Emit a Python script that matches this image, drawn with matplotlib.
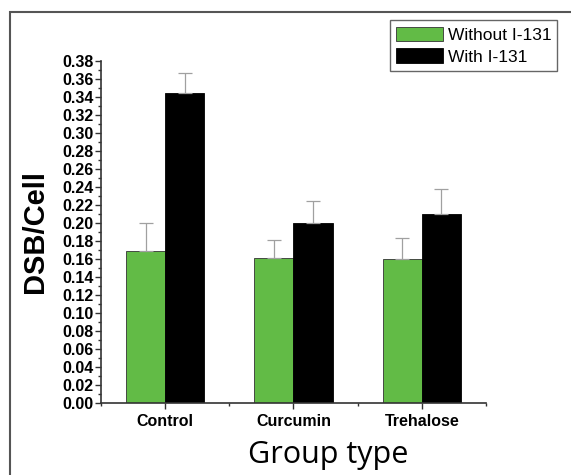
import matplotlib
matplotlib.use("Agg")
import matplotlib.pyplot as plt
import matplotlib.patches as patches
from matplotlib.ticker import MultipleLocator
import numpy as np

groups = ["Control", "Curcumin", "Trehalose"]
without_i131 = [0.169, 0.161, 0.160]
without_err = [0.031, 0.020, 0.023]
with_i131 = [0.344, 0.200, 0.210]
with_err = [0.023, 0.024, 0.028]
series_names = ["Without I-131", "With I-131"]

green = "#62bb46"
bold_font = "Liberation Sans"

fig = plt.figure(figsize=(5.71, 4.75), dpi=100)
ax = fig.add_axes([0.177, 0.1516, 0.674, 0.72])

x = np.arange(len(groups))
w = 0.305
err_style = dict(ecolor="#a0a0a0", elinewidth=0.9, capsize=5, capthick=0.9)

ax.bar(x - w / 2, without_i131, w, color=green, edgecolor="#333333", linewidth=0.6,
       yerr=[np.zeros(3), without_err], error_kw=err_style, label=series_names[0])
ax.bar(x + w / 2, with_i131, w, color="black", edgecolor="black", linewidth=0.6,
       yerr=[np.zeros(3), with_err], error_kw=err_style, label=series_names[1])

ax.set_xlim(-0.5, 2.5)
ax.set_ylim(0, 0.38)
ax.set_xticks(x)
ax.set_xticklabels(groups, fontfamily=bold_font, fontweight="bold", fontsize=11.5)
ax.xaxis.set_minor_locator(MultipleLocator(0.5))
ax.yaxis.set_minor_locator(MultipleLocator(0.01))
yt = np.arange(0, 0.381, 0.02)
ax.set_yticks(yt)
ax.set_yticklabels([f"{v:.2f}" for v in yt],
                   fontfamily=bold_font, fontweight="bold", fontsize=11.5)

for side in ["top", "right"]:
    ax.spines[side].set_visible(False)
for side in ["left", "bottom"]:
    ax.spines[side].set_color("#333333")
    ax.spines[side].set_linewidth(1.2)

ax.tick_params(axis="both", which="major", direction="out", length=4, width=1, color="#333333", pad=1.5)
ax.tick_params(axis="both", which="minor", direction="out", length=2.5, width=1, color="#333333")
ax.tick_params(axis="x", which="major", pad=4)

ax.set_ylabel("DSB/Cell", fontfamily=bold_font, fontweight="bold", fontsize=21)
ax.yaxis.set_label_coords(-0.135, 0.5)
ax.set_xlabel("Group type", fontfamily="Open Sans", fontsize=22)
ax.xaxis.set_label_coords(0.59, -0.107)

# outer frame, only its top and left edges fall inside the picture
frame = patches.Rectangle((0.018, -0.2), 1.2, 1.175, transform=fig.transFigure,
                          fill=False, edgecolor="#555555", linewidth=1.5)
fig.patches.append(frame)

leg = fig.legend(loc="upper right", bbox_to_anchor=(0.976, 0.957),
                 prop={"family": bold_font, "size": 12.5}, fancybox=False,
                 edgecolor="#666666", framealpha=1, handlelength=2.7,
                 handleheight=0.95, handletextpad=0.25, borderpad=0.35,
                 labelspacing=0.3, borderaxespad=0)
leg.get_frame().set_linewidth(1.0)

fig.savefig("out.png", dpi=100)
